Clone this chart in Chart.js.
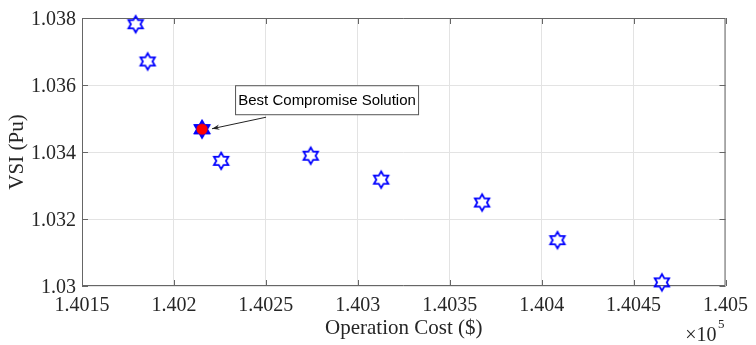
<!DOCTYPE html>
<html>
<head>
<meta charset="utf-8">
<script src="https://cdn.jsdelivr.net/npm/chart.js@4.4.0/dist/chart.umd.min.js"></script>
<style>
    body { margin: 0; background: #fff; }
    canvas { display: block; }
</style>
</head>
<body>
<canvas id="paretoChart" width="756" height="345"></canvas>
<script>
// operation cost (x 10^5 $) and VSI (pu) of the pareto front
var costValues = [1.401792, 1.401857, 1.402153, 1.402257, 1.402744, 1.403127, 1.403676, 1.404086, 1.404654];
var vsiValues = [1.037815, 1.036702, 1.03468, 1.033736, 1.033889, 1.033174, 1.032491, 1.031369, 1.030108];
var bestIndex = 2;

var xTickValues = [1.4015, 1.402, 1.4025, 1.403, 1.4035, 1.404, 1.4045, 1.405];
var xTickLabels = ['1.4015', '1.402', '1.4025', '1.403', '1.4035', '1.404', '1.4045', '1.405'];
var yTickValues = [1.03, 1.032, 1.034, 1.036, 1.038];
var yTickLabels = ['1.03', '1.032', '1.034', '1.036', '1.038'];

var serif = '"Liberation Serif", "Times New Roman", serif';
var textColor = '#262626';

function hexagram(ctx, cx, cy, R) {
    var r = R / Math.sqrt(3);
    ctx.beginPath();
    for (var i = 0; i < 12; i++) {
        var ang = -Math.PI / 2 + i * Math.PI / 6;
        var rad = (i % 2 === 0) ? R : r;
        var px = cx + rad * Math.cos(ang);
        var py = cy + rad * Math.sin(ang);
        if (i === 0) ctx.moveTo(px, py); else ctx.lineTo(px, py);
    }
    ctx.closePath();
}

function makeStar(withDot) {
    var c = document.createElement('canvas');
    c.width = 22;
    c.height = 22;
    var g = c.getContext('2d');
    hexagram(g, 11, 11, 8.3);
    g.lineWidth = 1.8;
    g.lineJoin = 'miter';
    g.strokeStyle = '#0000ff';
    if (withDot) {
        g.fillStyle = '#0000ff';
        g.fill();
    }
    g.stroke();
    if (withDot) {
        g.beginPath();
        g.arc(11, 11, 5.6, 0, Math.PI * 2);
        g.fillStyle = '#ff0000';
        g.fill();
    }
    return c;
}

var points = costValues.map(function (x, i) {
    return {x: x, y: vsiValues[i]};
});

// box, inner ticks, x10^5 and the annotation
var decorPlugin = {
    id: 'decor',
    beforeDatasetsDraw: function (chart) {
        var ctx = chart.ctx;
        var a = chart.chartArea;
        var xs = chart.scales.x;
        var ys = chart.scales.y;
        ctx.save();
        ctx.strokeStyle = '#666';
        ctx.lineWidth = 1;
        ctx.beginPath();
        ctx.rect(a.left + 0.5, a.top + 0.5, a.right - a.left - 1, a.bottom - a.top - 1);
        ctx.stroke();
        ctx.beginPath();
        xTickValues.forEach(function (v) {
            var px = Math.round(xs.getPixelForValue(v)) + 0.5;
            ctx.moveTo(px, a.bottom);
            ctx.lineTo(px, a.bottom - 6);
            ctx.moveTo(px, a.top);
            ctx.lineTo(px, a.top + 6);
        });
        yTickValues.forEach(function (v) {
            var py = Math.round(ys.getPixelForValue(v)) + 0.5;
            ctx.moveTo(a.left, py);
            ctx.lineTo(a.left + 6, py);
            ctx.moveTo(a.right, py);
            ctx.lineTo(a.right - 6, py);
        });
        ctx.stroke();
        ctx.restore();
    },
    afterDatasetsDraw: function (chart) {
        var ctx = chart.ctx;
        var a = chart.chartArea;
        var best = chart.getDatasetMeta(1).data[0];
        var bx = best.x;
        var by = best.y;
        ctx.save();

        // x 10^5 exponent
        ctx.fillStyle = textColor;
        ctx.textBaseline = 'alphabetic';
        ctx.textAlign = 'right';
        ctx.font = '13px ' + serif;
        ctx.fillText('5', a.right - 1, 328);
        ctx.font = '20px ' + serif;
        ctx.fillText('\u00d710', a.right - 9, 341);

        // annotation box
        var boxX = bx + 33.5;
        var boxY = by - 43.5;
        var boxW = 183;
        var boxH = 29;
        ctx.fillStyle = '#fff';
        ctx.fillRect(boxX, boxY, boxW, boxH);
        ctx.strokeStyle = '#555';
        ctx.lineWidth = 1;
        ctx.strokeRect(boxX, boxY, boxW, boxH);
        ctx.fillStyle = '#000';
        ctx.font = '15px "Liberation Sans", Arial, sans-serif';
        ctx.textAlign = 'center';
        ctx.textBaseline = 'middle';
        ctx.fillText('Best Compromise Solution', boxX + boxW / 2, boxY + boxH / 2 + 1);

        // arrow
        var x0 = bx + 64, y0 = by - 12;
        var x1 = bx + 10, y1 = by - 0.5;
        ctx.strokeStyle = '#222';
        ctx.beginPath();
        ctx.moveTo(x0, y0);
        ctx.lineTo(x1, y1);
        ctx.stroke();
        var ang = Math.atan2(y1 - y0, x1 - x0);
        ctx.fillStyle = '#222';
        ctx.beginPath();
        ctx.moveTo(x1, y1);
        ctx.lineTo(x1 - 8 * Math.cos(ang - 0.35), y1 - 8 * Math.sin(ang - 0.35));
        ctx.lineTo(x1 - 5 * Math.cos(ang), y1 - 5 * Math.sin(ang));
        ctx.lineTo(x1 - 8 * Math.cos(ang + 0.35), y1 - 8 * Math.sin(ang + 0.35));
        ctx.closePath();
        ctx.fill();
        ctx.restore();
    }
};

function renderChart() {
    var ctx = document.getElementById('paretoChart').getContext('2d');
    new Chart(ctx, {
        type: 'scatter',
        data: {
            datasets: [{
                label: 'Pareto front',
                data: points,
                pointStyle: makeStar(false),
                order: 2,
                clip: false
            }, {
                label: 'Best compromise',
                data: [points[bestIndex]],
                pointStyle: makeStar(true),
                order: 1,
                clip: false
            }]
        },
        options: {
            responsive: false,
            animation: false,
            layout: {padding: {left: 0, top: 13, right: 27, bottom: 0}},
            plugins: {
                legend: {display: false},
                tooltip: {enabled: false}
            },
            scales: {
                x: {
                    type: 'linear',
                    min: 1.4015,
                    max: 1.405,
                    afterBuildTicks: function (scale) {
                        scale.ticks = xTickValues.map(function (v) { return {value: v}; });
                    },
                    afterFit: function (scale) { scale.height = 59; },
                    ticks: {
                        autoSkip: false,
                        maxRotation: 0,
                        padding: 8,
                        color: textColor,
                        font: {family: serif, size: 20},
                        callback: function (v, i) { return xTickLabels[i]; }
                    },
                    grid: {color: '#e3e3e3', drawTicks: false},
                    border: {display: false},
                    title: {
                        display: true,
                        text: 'Operation Cost ($)',
                        color: textColor,
                        font: {family: serif, size: 21},
                        padding: {top: 0, bottom: 4}
                    }
                },
                y: {
                    type: 'linear',
                    min: 1.03,
                    max: 1.038,
                    afterBuildTicks: function (scale) {
                        scale.ticks = yTickValues.map(function (v) { return {value: v}; });
                    },
                    afterFit: function (scale) { scale.width = 82; },
                    ticks: {
                        autoSkip: false,
                        padding: 6,
                        labelOffset: 2,
                        color: textColor,
                        font: {family: serif, size: 20},
                        callback: function (v, i) { return yTickLabels[i]; }
                    },
                    grid: {color: '#e3e3e3', drawTicks: false},
                    border: {display: false},
                    title: {
                        display: true,
                        text: 'VSI (Pu)',
                        color: textColor,
                        font: {family: serif, size: 21},
                        padding: {top: 5, bottom: 0}
                    }
                }
            }
        },
        plugins: [decorPlugin]
    });
}

renderChart();
</script>
</body>
</html>
